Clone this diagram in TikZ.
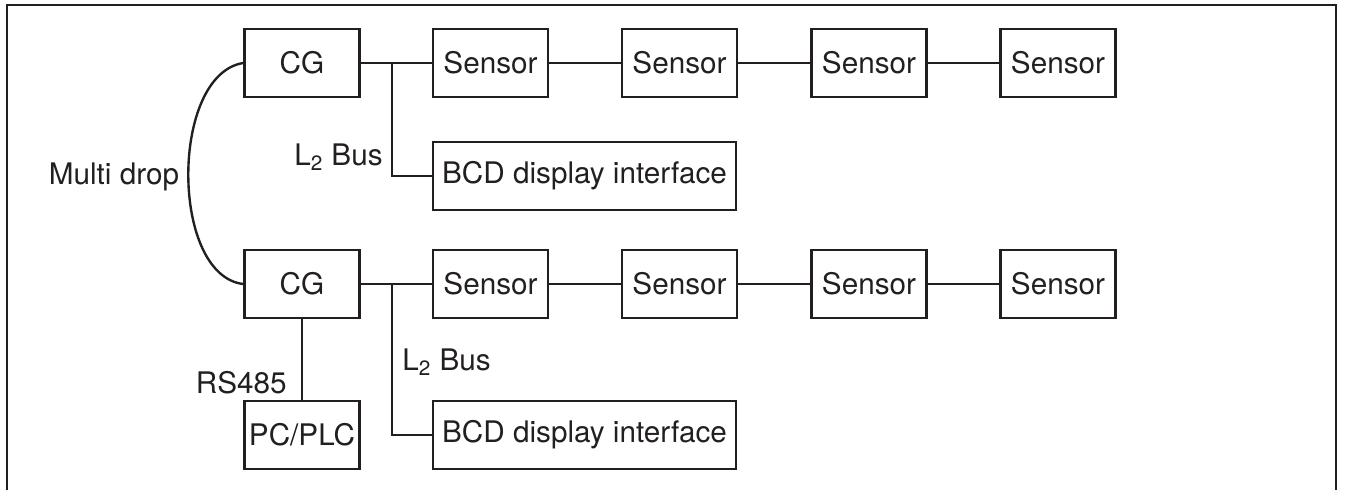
\documentclass[tikz,border=0pt]{standalone}
\usepackage{fontspec}
\setmainfont{TeX Gyre Heros}
\definecolor{ink}{HTML}{231F20}
\begin{document}
\begin{tikzpicture}[x=0.02cm,y=-0.02cm,
  every node/.style={text=ink,font=\fontsize{16.9}{19}\selectfont},
  box/.style={draw=ink,line width=1.6pt,rectangle,minimum width=2.3cm,minimum height=1.36cm,inner sep=0pt},
  widebox/.style={box,minimum width=6.06cm},
  wire/.style={draw=ink,line width=1.35pt},
  lbl/.style={inner sep=0pt}]
\useasboundingbox (0,0) rectangle (1345,490);
\draw[draw=ink,line width=1.5pt] (7,495) -- (7,5) -- (1336,5) -- (1336,495);
% top row
\node[box] (cg1) at (302,63) {CG};
\node[box] (s11) at (490.5,63) {Sensor};
\node[box] (s12) at (679.5,63) {Sensor};
\node[box] (s13) at (869,63) {Sensor};
\node[box] (s14) at (1058,63) {Sensor};
\node[widebox] (bcd1) at (584.5,176) {BCD display interface};
% bottom row
\node[box] (cg2) at (302,284) {CG};
\node[box] (s21) at (490.5,284) {Sensor};
\node[box] (s22) at (679.5,284) {Sensor};
\node[box] (s23) at (869,284) {Sensor};
\node[box] (s24) at (1058,284) {Sensor};
\node[widebox] (bcd2) at (584.5,435) {BCD display interface};
\node[box] (pc) at (302,435) {PC/PLC};
% junctions
\coordinate (j1) at (392,63);
\coordinate (j2) at (392,284);
% wires
\draw[wire] (cg1) -- (s11) (s11) -- (s12) (s12) -- (s13) (s13) -- (s14);
\draw[wire] (j1) |- (bcd1.west);
\draw[wire] (cg2) -- (s21) (s21) -- (s22) (s22) -- (s23) (s23) -- (s24);
\draw[wire] (j2) |- (bcd2.west);
\draw[wire] (cg2) -- (pc);
\draw[wire] (cg1.west) .. controls (170,75) and (170,275) .. (cg2.west);
% labels
\node[lbl,anchor=east] (l2a) at (383,157) {L\textsubscript{2} Bus};
\node[lbl,anchor=west] (l2b) at (402,362) {L\textsubscript{2} Bus};
\node[lbl] (md) at (114,177) {Multi drop};
\node[lbl,anchor=east] (rs) at (287,383) {RS485};
\end{tikzpicture}
\end{document}
